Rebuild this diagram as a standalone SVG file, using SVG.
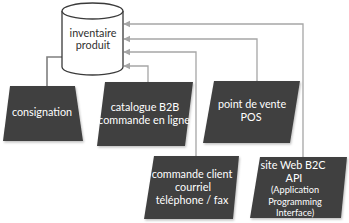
<svg xmlns="http://www.w3.org/2000/svg" width="349" height="223" viewBox="0 0 349 223">
<style>
.shape{fill:#404040;filter:url(#sh)}
.cyl{fill:#ffffff;stroke:#3a3a3a;stroke-width:1.3}
.lbl{fill:#ffffff;font-family:Lato,"Open Sans",sans-serif;font-size:10.8px;text-anchor:middle}
.sm{font-size:9.2px}
.dark{fill:#303030}
.conn{fill:none;stroke:#a6a6a6;stroke-width:1.3}
.conn2{fill:none;stroke:#7f7f7f;stroke-width:1.6}
</style>
<defs>
<filter id="sh" x="-10%" y="-10%" width="130%" height="130%">
<feDropShadow dx="1" dy="1.5" stdDeviation="0.8" flood-color="#000" flood-opacity="0.25"/>
</filter>
<marker id="ah" viewBox="0 0 10 10" refX="9" refY="5" markerWidth="5.5" markerHeight="5.5" orient="auto">
<path d="M0,0 L10,5 L0,10 z" fill="#a6a6a6"/>
</marker>
</defs>
<g id="connectors">
<path class="conn2" d="M62,57 H47 V86"/>
<path class="conn" d="M303,157 V24 H124" marker-end="url(#ah)" marker-start="url(#ah)"/>
<path class="conn" d="M257,81 V39 H124" marker-end="url(#ah)" marker-start="url(#ah)"/>
<path class="conn" d="M196,156 V52 H124" marker-end="url(#ah)" marker-start="url(#ah)"/>
<path class="conn" d="M148,82 V66 H124" marker-end="url(#ah)" marker-start="url(#ah)"/>
</g>
<g id="inventaire">
<path class="cyl" d="M62,11 V67 A30.5,8 0 0 0 123,67 V11"/>
<ellipse class="cyl" cx="92.5" cy="11" rx="30.5" ry="8"/>
<text class="lbl dark" x="93" y="37">inventaire</text>
<text class="lbl dark" x="93" y="49">produit</text>
</g>
<g id="consignation">
<polygon class="shape" points="10,86 75,86 83,141 3,141"/>
<text class="lbl" x="42" y="116">consignation</text>
</g>
<g id="catalogue">
<polygon class="shape" points="105,82 193,82 185,146 97,146"/>
<text class="lbl" x="145" y="111">catalogue B2B</text>
<text class="lbl" x="144" y="124">commande en ligne</text>
</g>
<g id="pos">
<polygon class="shape" points="214,81 300,81 290,143 203,143"/>
<text class="lbl" x="252" y="108">point de vente</text>
<text class="lbl" x="251" y="121">POS</text>
</g>
<g id="commande">
<polygon class="shape" points="154,156 239,156 233,219 144,219"/>
<text class="lbl" x="192" y="178">commande client</text>
<text class="lbl" x="193" y="191">courriel</text>
<text class="lbl" x="192" y="204">téléphone / fax</text>
</g>
<g id="siteweb">
<polygon class="shape" points="260,157 347,157 341,218 250,218"/>
<text class="lbl" x="293" y="169">site Web B2C</text>
<text class="lbl" x="294" y="182">API</text>
<text class="lbl sm" x="295" y="193">(Application</text>
<text class="lbl sm" x="295" y="205">Programming</text>
<text class="lbl sm" x="295" y="216">Interface)</text>
</g>
</svg>
